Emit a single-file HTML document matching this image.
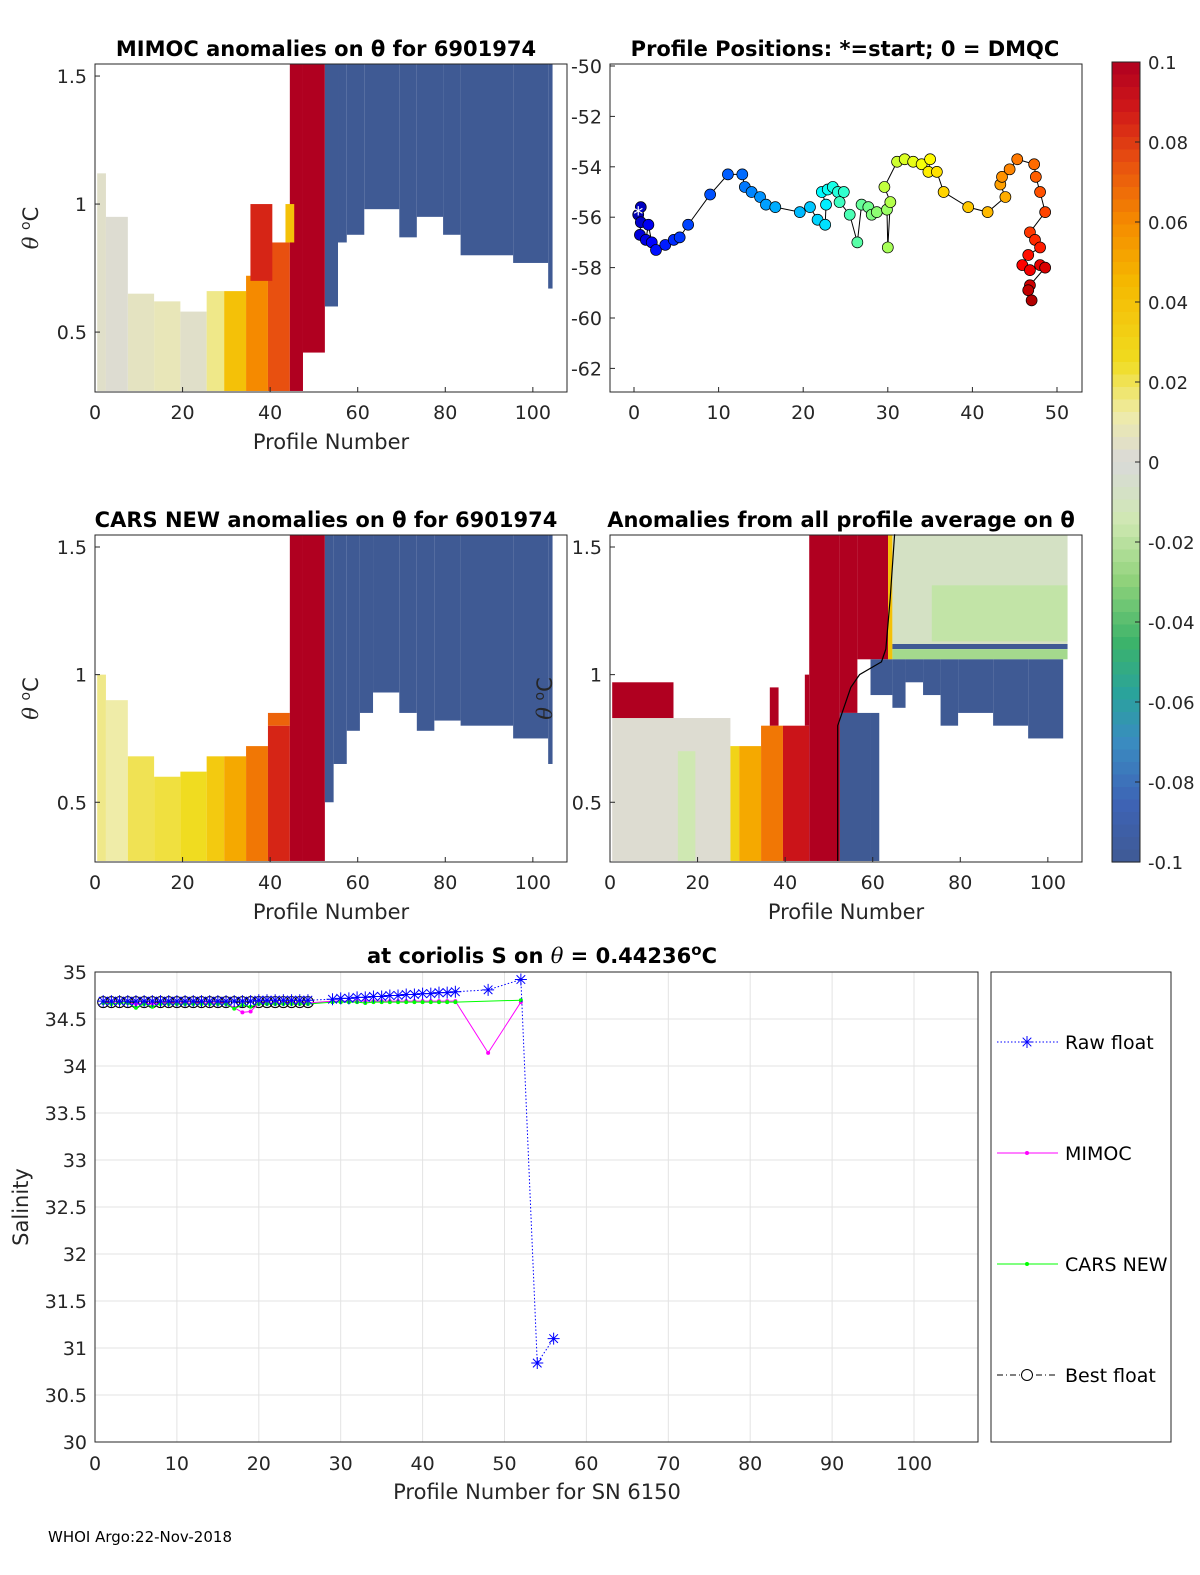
<!DOCTYPE html>
<html><head><meta charset="utf-8"><style>
body{margin:0;background:#fff}
svg{display:block;font-family:"DejaVu Sans","Liberation Sans",sans-serif}
</style></head><body>
<svg id="fig" width="1200" height="1575" viewBox="0 0 1200 1575" xmlns="http://www.w3.org/2000/svg">
<rect width="1200" height="1575" fill="#fff"/>
<g id="root"></g>
<text x="48" y="1542" font-size="15">WHOI Argo:22-Nov-2018</text>
</svg>
<script>
// heatmap segments: [profileStart, profileEnd, thetaLow, thetaHigh, anomaly]
var mimocSegs=[[1,3,0.27,1.12,0.004],[3,8,0.27,0.95,0.002],[8,14,0.27,0.65,0.006],[14,20,0.27,0.62,0.008],[20,26,0.27,0.58,0.004],[26,30,0.27,0.66,0.015],[30,35,0.27,0.66,0.04],[35,40,0.27,0.72,0.06],[40,45,0.27,0.85,0.075],[36,41,0.7,1.0,0.085],[45,48,0.27,1.55,0.1],[48,53,0.42,1.55,0.1],[44,46,0.85,1.0,0.04],
[53,56,0.6,1.55,-0.1],[56,58,0.85,1.55,-0.1],[58,62,0.88,1.55,-0.1],[62,70,0.98,1.55,-0.1],[70,74,0.87,1.55,-0.1],[74,80,0.95,1.55,-0.1],[80,84,0.88,1.55,-0.1],[84,96,0.8,1.55,-0.1],[96,104,0.77,1.55,-0.1],[104,105,0.67,1.55,-0.1]];
var carsSegs=[[1,3,0.27,1.0,0.015],[3,8,0.27,0.9,0.012],[8,14,0.27,0.68,0.02],[14,20,0.27,0.6,0.022],[20,26,0.27,0.62,0.025],[26,30,0.27,0.68,0.035],[30,35,0.27,0.68,0.05],[35,40,0.27,0.72,0.065],[40,45,0.27,0.8,0.085],[40,45,0.8,0.85,0.07],[45,48,0.27,1.55,0.1],[48,53,0.27,1.55,0.1],
[53,55,0.5,1.55,-0.1],[55,58,0.65,1.55,-0.1],[58,61,0.78,1.55,-0.1],[61,64,0.85,1.55,-0.1],[64,70,0.93,1.55,-0.1],[70,74,0.85,1.55,-0.1],[74,78,0.78,1.55,-0.1],[78,84,0.82,1.55,-0.1],[84,96,0.8,1.55,-0.1],[96,104,0.75,1.55,-0.1],[104,105,0.65,1.55,-0.1]];
var allSegs=[[1,28,0.27,0.83,0.002],[1,15,0.83,0.97,0.1],[16,20,0.27,0.7,-0.015],[28,30,0.27,0.72,0.03],[30,35,0.27,0.72,0.05],[35,40,0.27,0.8,0.065],[40,46,0.27,0.8,0.09],[37,39,0.8,0.95,0.1],[46,53,0.27,1.55,0.1],[45,46,0.8,1.0,0.1],[53,57,0.85,1.55,0.1],[57,64,1.06,1.55,0.1],[64,65,1.06,1.55,0.04],[65,105,1.12,1.55,-0.008],[74,105,1.13,1.35,-0.018],[65,105,1.1,1.12,-0.1],[65,105,1.06,1.1,-0.025],
[53,60,0.27,0.85,-0.1],[60,62,0.27,0.85,-0.1],[60,65,0.92,1.06,-0.1],[65,68,0.87,1.06,-0.1],[68,72,0.97,1.06,-0.1],[72,76,0.92,1.06,-0.1],[76,80,0.8,1.06,-0.1],[80,88,0.85,1.06,-0.1],[88,96,0.8,1.06,-0.1],[96,104,0.75,1.06,-0.1]];
var lons=[0.5,0.8,0.8,0.7,1.4,1.7,2.1,2.6,3.7,4.7,5.4,6.4,9.0,11.1,12.8,13.1,13.9,14.9,15.6,16.7,19.6,20.8,21.7,22.6,22.7,22.2,22.9,23.5,24.1,24.8,24.3,25.5,26.4,26.9,27.7,28.1,28.7,29.9,30.0,30.3,29.6,31.1,32.0,33.0,34.0,35.0,34.8,35.8,36.6,39.5,41.8,43.9,43.3,43.5,44.4,45.3,47.3,47.5,48.0,48.6,46.8,47.4,48.0,46.6,45.9,46.8,48.0,48.6,46.8,46.6,47.0];
var lats=[-55.9,-55.6,-56.2,-56.7,-56.9,-56.3,-57.0,-57.3,-57.1,-56.9,-56.8,-56.3,-55.1,-54.3,-54.3,-54.8,-55.0,-55.2,-55.5,-55.6,-55.8,-55.6,-56.1,-56.3,-55.5,-55.0,-54.9,-54.8,-55.0,-55.0,-55.4,-55.9,-57.0,-55.5,-55.6,-55.9,-55.8,-55.7,-57.2,-55.4,-54.8,-53.8,-53.7,-53.8,-53.9,-53.7,-54.2,-54.2,-55.0,-55.6,-55.8,-55.2,-54.7,-54.4,-54.1,-53.7,-53.9,-54.4,-55.0,-55.8,-56.6,-56.9,-57.2,-57.5,-57.9,-58.1,-57.9,-58.0,-58.7,-58.9,-59.3];
var rawX=[1,2,3,4,5,6,7,8,9,10,11,12,13,14,15,16,17,18,19,20,21,22,23,24,25,26,29,30,31,32,33,34,35,36,37,38,39,40,41,42,43,44,48,52,54,56];
var rawY=[34.69,34.69,34.69,34.69,34.69,34.69,34.69,34.69,34.69,34.69,34.69,34.69,34.69,34.69,34.69,34.69,34.69,34.69,34.69,34.7,34.7,34.7,34.7,34.7,34.7,34.7,34.71,34.72,34.72,34.73,34.73,34.74,34.74,34.75,34.75,34.76,34.76,34.77,34.77,34.78,34.78,34.79,34.81,34.92,30.84,31.1];
var mimX=[1,2,3,4,5,6,7,8,9,10,11,12,13,14,15,16,17,18,19,20,21,22,23,24,25,26,29,30,31,32,33,34,35,36,37,38,39,40,41,42,43,44,48,52];
var mimY=[34.67,34.67,34.67,34.67,34.66,34.67,34.66,34.67,34.67,34.67,34.67,34.67,34.67,34.67,34.67,34.67,34.62,34.57,34.58,34.67,34.67,34.67,34.67,34.67,34.67,34.67,34.69,34.69,34.69,34.69,34.69,34.69,34.69,34.69,34.69,34.69,34.69,34.69,34.69,34.69,34.69,34.69,34.14,34.68];
var carX=[1,2,3,4,5,6,7,8,9,10,11,12,13,14,15,16,17,18,19,20,21,22,23,24,25,26,29,30,31,32,33,34,35,36,37,38,39,40,41,42,43,44,52];
var carY=[34.67,34.66,34.67,34.67,34.62,34.66,34.63,34.66,34.66,34.66,34.66,34.66,34.66,34.66,34.66,34.66,34.61,34.65,34.63,34.66,34.66,34.66,34.66,34.66,34.66,34.66,34.68,34.68,34.68,34.68,34.67,34.68,34.68,34.68,34.68,34.68,34.68,34.68,34.68,34.68,34.68,34.68,34.7];
var bestX=[1,2,3,4,5,6,7,8,9,10,11,12,13,14,15,16,17,18,19,20,21,22,23,24,25,26];
var bestY=[34.68,34.68,34.68,34.68,34.68,34.68,34.68,34.68,34.68,34.68,34.68,34.68,34.68,34.68,34.68,34.68,34.68,34.68,34.68,34.68,34.68,34.68,34.68,34.68,34.68,34.68];
var cbTicks=[0.1,0.08,0.06,0.04,0.02,0,-0.02,-0.04,-0.06,-0.08,-0.1];
var cbLabels=["0.1","0.08","0.06","0.04","0.02","0","-0.02","-0.04","-0.06","-0.08","-0.1"];

var NS="http://www.w3.org/2000/svg";
var root=document.getElementById('root');
function el(tag,attrs,parent,txt){
  var e=document.createElementNS(NS,tag);
  for(var k in attrs){e.setAttribute(k,String(attrs[k]));}
  if(txt!==undefined){e.textContent=txt;}
  (parent||root).appendChild(e);
  return e;
}
function hex(h){return [parseInt(h.substr(1,2),16),parseInt(h.substr(3,2),16),parseInt(h.substr(5,2),16)];}
var stops=[[-0.1,"#3f5a94"],[-0.085,"#3e64b6"],[-0.07,"#3a8cc0"],[-0.058,"#2aa39c"],[-0.045,"#3cb36a"],[-0.03,"#8fd27a"],[-0.015,"#cfe8b2"],[0,"#d9d9d9"],[0.012,"#efeca8"],[0.025,"#f0dc20"],[0.045,"#f5b800"],[0.06,"#f58a00"],[0.075,"#e85010"],[0.088,"#d01818"],[0.1,"#b00020"]];
function cmap(v){
  v=Math.max(-0.1,Math.min(0.1,v));
  for(var i=0;i<stops.length-1;i++){
    if(v<=stops[i+1][0]){
      var t=(v-stops[i][0])/(stops[i+1][0]-stops[i][0]);
      var a=hex(stops[i][1]),b=hex(stops[i+1][1]);
      return 'rgb('+Math.round(a[0]+(b[0]-a[0])*t)+','+Math.round(a[1]+(b[1]-a[1])*t)+','+Math.round(a[2]+(b[2]-a[2])*t)+')';
    }
  }
  return stops[stops.length-1][1];
}
function jet(t){
  var r=Math.max(0,Math.min(1,1.5-Math.abs(4*t-3))),g=Math.max(0,Math.min(1,1.5-Math.abs(4*t-2))),b=Math.max(0,Math.min(1,1.5-Math.abs(4*t-1)));
  return 'rgb('+Math.round(r*255)+','+Math.round(g*255)+','+Math.round(b*255)+')';
}
var FS=19;
function thetaLabel(parent,x,y,fs,rot){
  var t=el('text',{x:x,y:y,'font-size':fs,'text-anchor':'middle',fill:'#262626'},parent);
  if(rot){t.setAttribute('transform','rotate(-90 '+x+' '+y+')');}
  el('tspan',{'font-style':'italic','font-family':'DejaVu Serif'},t,'θ ');
  el('tspan',{dy:-8,'font-size':14},t,'o');
  el('tspan',{dy:8},t,'C');
  return t;
}

function heatPanel(name,box,segs,title,ylabX){
  var x0=box[0],y0=box[1],w=box[2],h=box[3];
  var sx=function(p){return x0+p*(w/107.8);};
  var sy=function(t){return y0+h-(t-0.266)*(h/(1.547-0.266));};
  var g=el('g',{});
  
  
  var clip=el('clipPath',{id:name+'-clip'},g);
  el('rect',{x:x0,y:y0,width:w,height:h},clip);
  var cg=el('g',{'clip-path':'url(#'+name+'-clip)'},g);
  segs.forEach(function(s){
    var r=el('rect',{x:sx(s[0]-0.5),y:sy(s[3]),width:sx(s[1]-0.5)-sx(s[0]-0.5),height:sy(s[2])-sy(s[3]),fill:cmap(s[4])},cg);
    
    
  });
  el('rect',{x:x0,y:y0,width:w,height:h,fill:'none',stroke:'#262626','stroke-width':1},g);
  [0,20,40,60,80,100].forEach(function(v){
    el('line',{x1:sx(v),x2:sx(v),y1:y0+h,y2:y0+h-5,stroke:'#262626'},g);
    var t=el('text',{x:sx(v),y:y0+h+27,'font-size':FS,'text-anchor':'middle',fill:'#262626'},g,String(v));
    
    
  });
  [[0.5,'0.5'],[1,'1'],[1.5,'1.5']].forEach(function(p){
    el('line',{x1:x0,x2:x0+5,y1:sy(p[0]),y2:sy(p[0]),stroke:'#262626'},g);
    var t=el('text',{x:x0-8,y:sy(p[0])+7,'font-size':FS,'text-anchor':'end',fill:'#262626'},g,p[1]);
    
    
  });
  var tt=el('text',{x:x0+w/2-5,y:y0-8,'font-size':21,'font-weight':'bold','text-anchor':'middle',fill:'#000'},g,title);
  
  
  var xt=el('text',{x:x0+w/2,y:y0+h+57,'font-size':21,'text-anchor':'middle',fill:'#262626'},g,'Profile Number');
  
  
  var yt=thetaLabel(g,ylabX,y0+h/2,21,true);
  
  
  return {sx:sx,sy:sy};
}
try{heatPanel('mimoc-panel',[95,64,472,328],mimocSegs,'MIMOC anomalies on θ  for 6901974',38);}catch(e){console.log(e);}
try{heatPanel('cars-panel',[95,535,472,327],carsSegs,'CARS NEW anomalies on θ for 6901974',38);}catch(e){console.log(e);}
try{
  var p4=heatPanel('all-profile-panel',[610,535,472,327],allSegs,'Anomalies from all profile average on θ',552);
  var mp=[[52,0.27],[52,0.8],[55,0.95],[57,1.0],[62,1.05],[63,1.1],[64,1.3],[65,1.55]];
  var ml=el('polyline',{points:mp.map(function(p){return p4.sx(p[0])+','+p4.sy(p[1]);}).join(' '),fill:'none',stroke:'#000','stroke-width':1.2});
  
  
}catch(e){console.log(e);}

// track panel
try{(function(){
  var x0=610,y0=64,w=472,h=328;
  var sx=function(v){return 634+v*8.46;}, sy=function(v){return 66+(-50-v)*25.2;};
  var g=el('g',{});
  
  
  el('rect',{x:x0,y:y0,width:w,height:h,fill:'#fff',stroke:'#262626'},g);
  [0,10,20,30,40,50].forEach(function(v){
    el('line',{x1:sx(v),x2:sx(v),y1:y0+h,y2:y0+h-5,stroke:'#262626'},g);
    var t=el('text',{x:sx(v),y:y0+h+27,'font-size':FS,'text-anchor':'middle',fill:'#262626'},g,String(v));
    
    
  });
  [-50,-52,-54,-56,-58,-60,-62].forEach(function(v){
    el('line',{x1:x0,x2:x0+5,y1:sy(v),y2:sy(v),stroke:'#262626'},g);
    var t=el('text',{x:x0-8,y:sy(v)+7,'font-size':FS,'text-anchor':'end',fill:'#262626'},g,String(v));
    
    
  });
  el('polyline',{points:lons.map(function(v,i){return sx(v)+','+sy(lats[i]);}).join(' '),fill:'none',stroke:'#000','stroke-width':1},g);
  lons.forEach(function(v,i){
    var c=el('circle',{cx:sx(v),cy:sy(lats[i]),r:5.5,fill:jet(0.05+0.9*i/(lons.length-1)),stroke:'#000','stroke-width':0.7},g);
    
    
  });
  var s=el('text',{x:sx(lons[0]),y:sy(lats[0])+7,'font-size':20,'text-anchor':'middle',fill:'#fff'},g,'*');
  
  
  var t=el('text',{x:845,y:56,'font-size':21,'font-weight':'bold','text-anchor':'middle'},g,'Profile Positions: *=start; 0 = DMQC');
  
  
})();}catch(e){console.log(e);}

// colorbar
try{(function(){
  var x0=1112,y0=62,w=28,h=800,n=64;
  var g=el('g',{});
  
  
  for(var i=0;i<n;i++){var v=0.1-(i+0.5)*0.2/n;el('rect',{x:x0,y:y0+i*h/n,width:w,height:h/n+0.6,fill:cmap(v)},g);}
  el('rect',{x:x0,y:y0,width:w,height:h,fill:'none',stroke:'#262626'},g);
  cbTicks.forEach(function(v,i){
    var y=y0+(0.1-v)/0.2*h;
    el('line',{x1:x0+w-5,x2:x0+w,y1:y,y2:y,stroke:'#262626'},g);
    var t=el('text',{x:1148,y:y+7,'font-size':18,fill:'#262626'},g,cbLabels[i]);
    
    
  });
})();}catch(e){console.log(e);}

// salinity chart
try{(function(){
  var x0=95,y0=972,w=883,h=470;
  var sx=function(v){return 95+v*8.19;}, sy=function(v){return 972+(35-v)*94;};
  var g=el('g',{});
  
  
  var v;
  for(v=10;v<=100;v+=10){el('line',{x1:sx(v),x2:sx(v),y1:y0,y2:y0+h,stroke:'#e3e3e3'},g);}
  for(v=30.5;v<35;v+=0.5){el('line',{x1:x0,x2:x0+w,y1:sy(v),y2:sy(v),stroke:'#e3e3e3'},g);}
  el('rect',{x:x0,y:y0,width:w,height:h,fill:'none',stroke:'#262626'},g);
  for(v=0;v<=100;v+=10){
    var tx=el('text',{x:sx(v),y:y0+h+28,'font-size':FS,'text-anchor':'middle',fill:'#262626'},g,String(v));
    
    
  }
  for(v=30;v<=35;v+=0.5){
    var ty=el('text',{x:x0-8,y:sy(v)+7,'font-size':FS,'text-anchor':'end',fill:'#262626'},g,String(v));
    
    
  }
  var clipC=el('clipPath',{id:'salclip'},g);
  el('rect',{x:x0,y:y0-12,width:w,height:h+12},clipC);
  var cg=el('g',{'clip-path':'url(#salclip)'},g);
  var bl=el('polyline',{points:bestX.map(function(v,i){return sx(v)+','+sy(bestY[i]);}).join(' '),fill:'none',stroke:'#000','stroke-dasharray':'6 3 1 3'},cg);
  
  
  bestX.forEach(function(v,i){
    var c=el('circle',{cx:sx(v),cy:sy(bestY[i]),r:5.5,fill:'none',stroke:'#000'},cg);
    
    
  });
  var mlp=el('polyline',{points:mimX.map(function(v,i){return sx(v)+','+sy(mimY[i]);}).join(' '),fill:'none',stroke:'#ff00ff','stroke-width':1},cg);
  
  
  mimX.forEach(function(v,i){el('circle',{cx:sx(v),cy:sy(mimY[i]),r:2,fill:'#ff00ff'},cg);});
  var clp=el('polyline',{points:carX.map(function(v,i){return sx(v)+','+sy(carY[i]);}).join(' '),fill:'none',stroke:'#00ff00','stroke-width':1},cg);
  
  
  carX.forEach(function(v,i){el('circle',{cx:sx(v),cy:sy(carY[i]),r:2,fill:'#00ff00'},cg);});
  var rl=el('polyline',{points:rawX.map(function(v,i){return sx(v)+','+sy(rawY[i]);}).join(' '),fill:'none',stroke:'#0000ff','stroke-dasharray':'1.5 2'},cg);
  
  
  rawX.forEach(function(v,i){
    var x=sx(v),y=sy(rawY[i]);
    var p=el('path',{d:'M'+(x-6)+','+y+'h12M'+x+','+(y-6)+'v12M'+(x-4.3)+','+(y-4.3)+'l8.6,8.6M'+(x-4.3)+','+(y+4.3)+'l8.6,-8.6',stroke:'#0000ff','stroke-width':1},cg);
    
    
  });
  var t1=el('text',{x:542,y:963,'font-size':21,'font-weight':'bold','text-anchor':'middle'},g);
  
  
  el('tspan',{},t1,'at coriolis S on ');
  el('tspan',{'font-style':'italic','font-weight':'normal','font-family':'DejaVu Serif'},t1,'θ');
  el('tspan',{},t1,' = 0.44236');
  el('tspan',{dy:-8,'font-size':15},t1,'o');
  el('tspan',{dy:8},t1,'C');
  var xt=el('text',{x:537,y:1499,'font-size':21,'text-anchor':'middle',fill:'#262626'},g,'Profile Number for SN 6150');
  
  
  var yt=el('text',{x:28,y:1207,'font-size':21,'text-anchor':'middle',fill:'#262626',transform:'rotate(-90 28 1207)'},g,'Salinity');
  
  
  var lg=el('g',{},g);
  
  
  el('rect',{x:991,y:972,width:180,height:470,fill:'#fff',stroke:'#262626'},lg);
  var items=[['Raw float','#0000ff','1.5 2','star',1042],['MIMOC','#ff00ff','none','dot',1153],['CARS NEW','#00ff00','none','dot',1264],['Best float','#000','6 3 1 3','circ',1375]];
  items.forEach(function(it){
    var y=it[4],col=it[1];
    var e=el('g',{},lg);
    
    
    el('line',{x1:997,x2:1058,y1:y,y2:y,stroke:col,'stroke-dasharray':it[2]},e);
    if(it[3]==='star'){el('path',{d:'M1021,'+y+'h12M1027,'+(y-6)+'v12M1022.7,'+(y-4.3)+'l8.6,8.6M1022.7,'+(y+4.3)+'l8.6,-8.6',stroke:col},e);}
    if(it[3]==='dot'){el('circle',{cx:1027,cy:y,r:2,fill:col},e);}
    if(it[3]==='circ'){el('circle',{cx:1027,cy:y,r:5.5,fill:'#fff',stroke:col},e);}
    el('text',{x:1065,y:y+7,'font-size':19,fill:'#000'},e,it[0]);
  });
})();}catch(e){console.log(e);}
</script>
</body></html>
